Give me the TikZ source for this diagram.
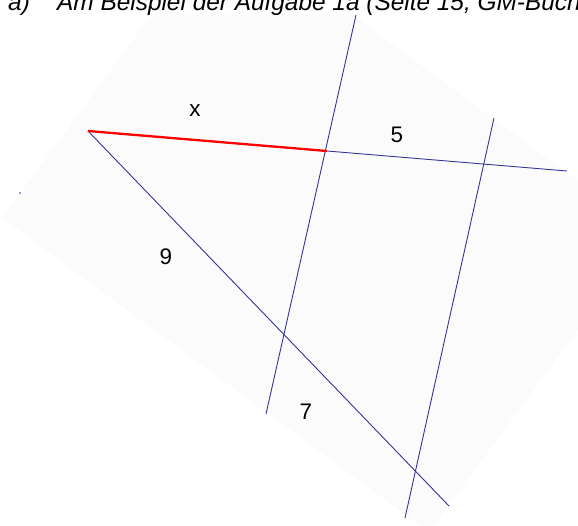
\documentclass[tikz,border=0pt]{standalone}
\usepackage{fontspec}
\setmainfont{Liberation Sans}
\definecolor{linienblau}{RGB}{52,52,150}
\definecolor{grundgrau}{RGB}{251,251,252}
\begin{document}
\begin{tikzpicture}[x=1pt,y=-1pt,
  linie/.style={linienblau,line width=0.9pt},
  strecke/.style={red,line width=2.3pt},
  zahl/.style={inner sep=0pt,font=\fontsize{22.5}{27}\selectfont},
  kopf/.style={inner sep=0pt,font=\fontsize{24.4}{29}\selectfont\itshape}]

\useasboundingbox (0,0) rectangle (578,525);
\clip (0,0) rectangle (578,525);

% Hintergrund
\begin{scope}
\clip (0,15) rectangle (578,525);
\fill[grundgrau] (2,218) -- (222,-81) -- (649,233) -- (429,532) -- cycle;
\end{scope}

% Punkte
\coordinate (A) at (88,131);
\coordinate (B) at (327,151);
\coordinate (C) at (567,171);
\coordinate (D) at (449,506);
\coordinate (P1) at (356,15);
\coordinate (Q1) at (266,414);
\coordinate (P2) at (494,118);
\coordinate (Q2) at (405,518);

% Ueberschrift
\node[kopf,anchor=base west] (titel) at (8,10)
{a)\hspace{27.3pt}Am Beispiel der Aufgabe 1a (Seite 15, GM-Buch};

% Parallelen
\draw[linie] (P1) -- (Q1);
\draw[linie] (P2) -- (Q2);

% Schenkel
\draw[linie] (B) -- (C);
\draw[linie] (A) -- (D);

% gesuchte Strecke
\draw[strecke] (A) -- (B);

% Punkt am Rand
\fill[linienblau] (20,193) circle (0.8);

% Beschriftung
\node[zahl] (x) at (195,111) {x};
\node[zahl] (fuenf) at (397,135) {5};
\node[zahl] (neun) at (166,257) {9};
\node[zahl] (sieben) at (306,412) {7};

\end{tikzpicture}
\end{document}
